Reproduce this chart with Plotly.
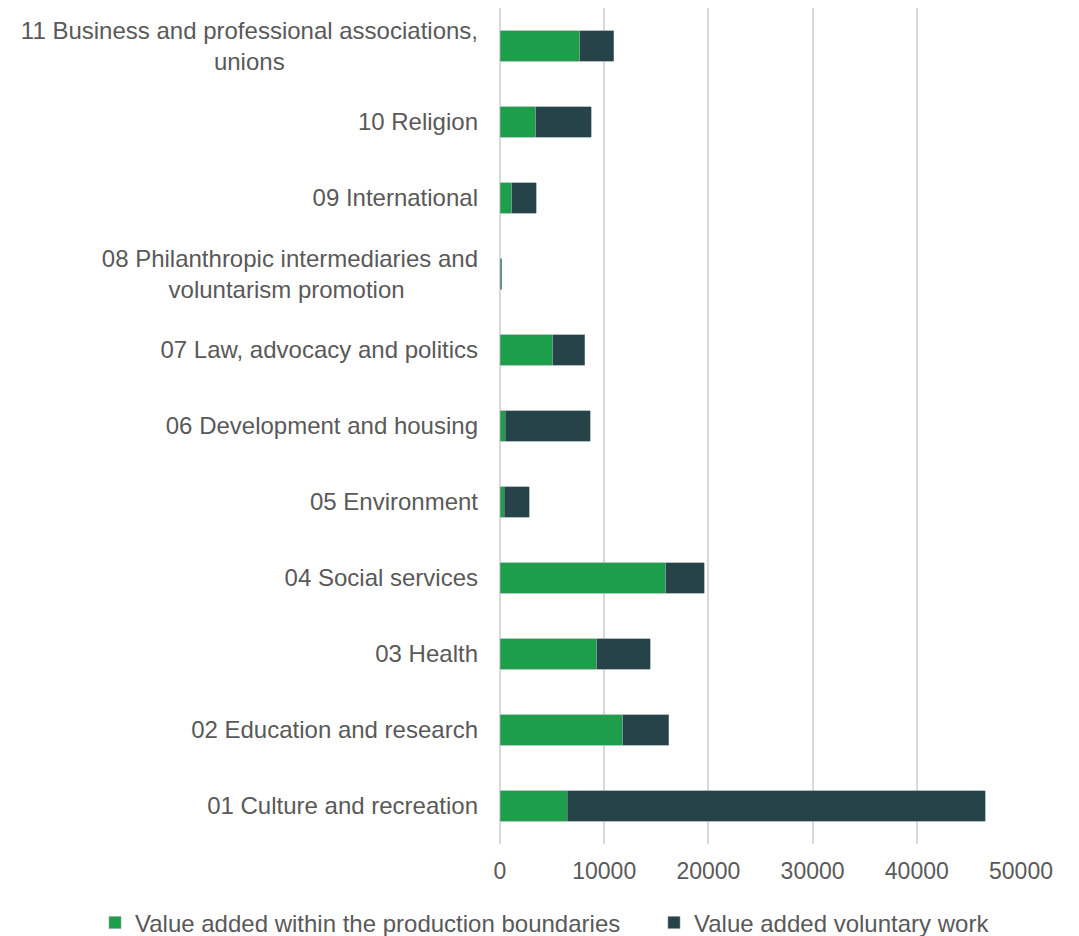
import plotly.graph_objects as go

categories = [
    "01 Culture and recreation",
    "02 Education and research",
    "03 Health",
    "04 Social services",
    "05 Environment",
    "06 Development and housing",
    "07 Law, advocacy and politics",
    "08 Philanthropic intermediaries and voluntarism promotion",
    "09 International",
    "10 Religion",
    "11 Business and professional associations, unions",
]
tick_labels = [
    "01 Culture and recreation",
    "02 Education and research",
    "03 Health",
    "04 Social services",
    "05 Environment",
    "06 Development and housing",
    "07 Law, advocacy and politics",
    "08 Philanthropic intermediaries and<br>voluntarism promotion" + "\u00a0" * 11,
    "09 International",
    "10 Religion",
    "11 Business and professional associations,<br>unions" + "\u00a0" * 29,
]
within_production = [6440, 11770, 9270, 15900, 385, 520, 5040, 120, 1150, 3430, 7630]
voluntary_work = [40110, 4420, 5150, 3690, 2405, 8130, 3100, 30, 2310, 5320, 3300]
x_ticks = [0, 10000, 20000, 30000, 40000, 50000]

FONT = "Liberation Sans, Arial, sans-serif"
GREY = "#595959"
W, H = 1071, 928  # page body adds an 8px offset

fig = go.Figure()
fig.add_trace(go.Bar(
    y=categories, x=within_production, orientation="h",
    name="Value added within the production boundaries",
    marker=dict(color="#1D9E4A", line=dict(width=0.6, color="#8aa39a")),
    legend="legend",
))
fig.add_trace(go.Bar(
    y=categories, x=voluntary_work, orientation="h",
    name="Value added voluntary work",
    marker=dict(color="#27434A", line=dict(width=0.6, color="#7f9296")),
    legend="legend2",
))

legend_common = dict(
    orientation="h",
    xref="container", yref="container",
    xanchor="left", yanchor="middle",
    y=(H - 915) / H,
    font=dict(size=24, color=GREY),
    itemwidth=30,
    bgcolor="rgba(0,0,0,0)",
)

fig.update_layout(
    barmode="stack",
    bargap=0.6,
    width=W, height=H,
    margin=dict(l=492, r=58, t=0, b=92, autoexpand=False),
    paper_bgcolor="white", plot_bgcolor="white",
    font=dict(family=FONT, size=24, color=GREY),
    showlegend=True,
    legend=dict(legend_common, x=87 / W),
    legend2=dict(legend_common, x=646 / W),
)
fig.update_xaxes(
    range=[0, 50000],
    tickvals=x_ticks, ticktext=[str(v) for v in x_ticks],
    showgrid=True, gridcolor="#d9d9d9", gridwidth=1.5,
    zeroline=True, zerolinecolor="#d9d9d9", zerolinewidth=2,
    showline=False,
    tickfont=dict(size=23, color=GREY),
    ticklabelstandoff=11,
)
fig.update_yaxes(
    categoryorder="array", categoryarray=categories,
    tickvals=categories, ticktext=tick_labels,
    showgrid=False, zeroline=False, showline=False,
    tickfont=dict(size=24, color=GREY),
    ticklabelstandoff=21,
    range=[-0.5, 10.5],
)

fig.write_html("out.html")
